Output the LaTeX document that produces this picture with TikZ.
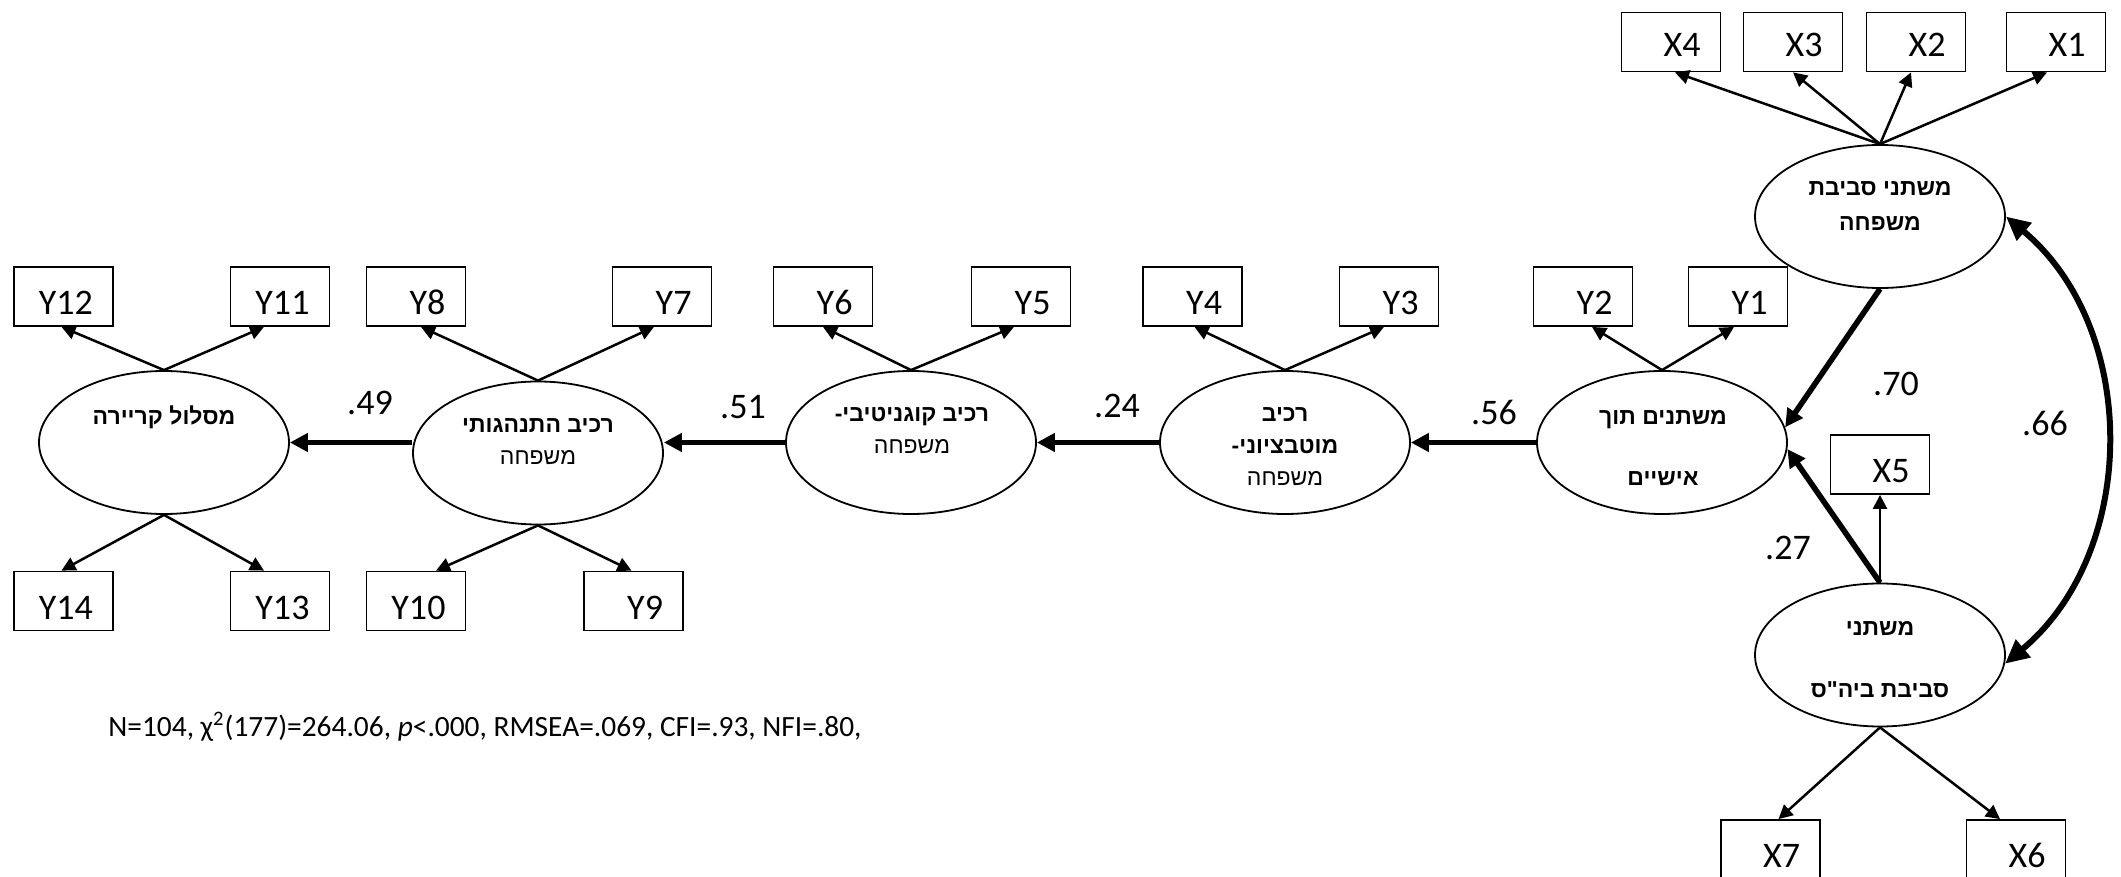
\documentclass[tikz,border=0pt]{standalone}
\usepackage{fontspec}
\setmainfont{Carlito}
\newfontfamily\heb[Script=Hebrew]{Liberation Sans}
\TeXXeTstate=1
\usetikzlibrary{arrows.meta,shapes.geometric,calc}
\begin{document}
\begin{tikzpicture}[x=0.5pt,y=-0.5pt,
  lat/.style={draw,ellipse,line width=0.9pt,minimum width=125pt,minimum height=71.5pt,inner sep=0pt},
  obs/.style={draw,rectangle,line width=0.9pt,minimum width=49.5pt,minimum height=29.5pt,inner xsep=10pt,inner ysep=0pt,text width=29.5pt,align=right,font=\fontsize{18}{20}\selectfont,text height=18pt,text depth=0pt},
  obsx/.style={obs,text height=14.5pt},
  ld/.style={line width=1.25pt,-{Triangle[length=7pt,width=7pt]}},
  strpath/.style={line width=2.8pt,-{Triangle[length=9pt,width=9pt]}},
  cov/.style={line width=3pt,{Triangle[length=12pt,width=11pt]}-{Triangle[length=12pt,width=11pt]}},
  coef/.style={font=\fontsize{18}{20}\selectfont,inner sep=0pt},
  htxt/.style={align=center,inner sep=0pt,font=\heb\bfseries\fontsize{11.5}{16}\selectfont},
]
\useasboundingbox (0,0) rectangle (2121,877);
\clip (0,0) rectangle (2121,877);

% latent variables
\node[lat] (E1) at (1880,216.5) {};
\node[lat] (E2) at (1662,442.5) {};
\node[lat] (E3) at (1880,655) {};
\node[lat] (Emot) at (1285,442.5) {};
\node[lat] (Ecog) at (911,442.5) {};
\node[lat] (Ebeh) at (538,453) {};
\node[lat] (Ecar) at (164,442.5) {};

% texts in latent variables
\node[htxt] (E1t) at (1880,206.5) {\beginR\strut משתני סביבת\endR\\[1.5pt]\beginR\strut משפחה\endR};
\node[htxt] (E2t) at (1663,448.5) {\beginR\strut משתנים תוך\endR\\[14.5pt]\beginR\strut אישיים\endR};
\node[htxt] (E3t) at (1880,660) {\beginR\strut משתני\endR\\[15pt]\beginR\strut סביבת ביה"ס\endR};
\node[htxt] (Emott) at (1285,447) {\beginR\strut רכיב\endR\\\beginR\strut מוטבציוני-\endR\\\mdseries\beginR\strut משפחה\endR};
\node[htxt] (Ecogt) at (912,431.5) {\beginR\strut רכיב קוגניטיבי-\endR\\\mdseries\beginR\strut משפחה\endR};
\node[htxt] (Ebeht) at (538,442) {\beginR\strut רכיב התנהגותי\endR\\\mdseries\beginR\strut משפחה\endR};
\node[htxt] (Ecart) at (164,418) {\beginR\strut מסלול קריירה\endR};

% observed variables
\node[obsx] (X4) at (1671,42) {X4};
\node[obsx] (X3) at (1793,42) {X3};
\node[obsx] (X2) at (1916,42) {X2};
\node[obsx] (X1) at (2056,42) {X1};
\node[obs] (X5) at (1880,464.5) {X5};
\node[obs] (X7) at (1770.5,849.5) {X7};
\node[obs] (X6) at (2016,849.5) {X6};

\node[obs] (Y12) at (63.5,296.5) {Y12};
\node[obs] (Y11) at (280,296.5) {Y11};
\node[obs] (Y8) at (416,296.5) {Y8};
\node[obs] (Y7) at (662,296.5) {Y7};
\node[obs] (Y6) at (823,296.5) {Y6};
\node[obs] (Y5) at (1021,296.5) {Y5};
\node[obs] (Y4) at (1192.5,296.5) {Y4};
\node[obs] (Y3) at (1389,296.5) {Y3};
\node[obs] (Y2) at (1583,296.5) {Y2};
\node[obs] (Y1) at (1738,296.5) {Y1};
\node[obs] (Y14) at (63.5,601) {Y14};
\node[obs] (Y13) at (280,601) {Y13};
\node[obs] (Y10) at (416,601) {Y10};
\node[obs] (Y9) at (633.5,601) {Y9};

% loadings
\draw[ld] (E1.north) -- ($(X4.south)+(4,0)$);
\draw[ld] (E1.north) -- (X3.south);
\draw[ld] (E1.north) -- ($(X2.south)+(-5,0)$);
\draw[ld] (E1.north) -- ($(X1.south)+(-9,0)$);
\draw[ld] (E2.north) -- ($(Y2.south)+(9,0)$);
\draw[ld] (E2.north) -- ($(Y1.south)+(-4,0)$);
\draw[ld] (Emot.north) -- ($(Y4.south)+(2,0)$);
\draw[ld] (Emot.north) -- ($(Y3.south)+(-5,0)$);
\draw[ld] (Ecog.north) -- (Y6.south);
\draw[ld] (Ecog.north) -- ($(Y5.south)+(-7,0)$);
\draw[ld] (Ebeh.north) -- ($(Y8.south)+(5,0)$);
\draw[ld] (Ebeh.north) -- ($(Y7.south)+(-8,0)$);
\draw[ld] (Ebeh.south) -- ($(Y10.north)+(20,0)$);
\draw[ld] (Ebeh.south) -- ($(Y9.north)+(-2,0)$);
\draw[ld] (Ecar.north) -- ($(Y12.south)+(-2,0)$);
\draw[ld] (Ecar.north) -- ($(Y11.south)+(-16,0)$);
\draw[ld] (Ecar.south) -- ($(Y14.north)+(-2,0)$);
\draw[ld] (Ecar.south) -- ($(Y13.north)+(-16,0)$);
\draw[ld] (E3.north) -- (X5.south);
\draw[ld] (E3.south) -- ($(X7.north)+(8,0)$);
\draw[ld] (E3.south) -- ($(X6.north)+(-16,0)$);

% structural paths
\draw[strpath] (E1.south) -- (E2.7);
\draw[strpath] (E3.north) -- (E2.-3);
\draw[strpath] (E2.west) -- (Emot.east);
\draw[strpath] (Emot.west) -- (Ecog.east);
\draw[strpath] (Ecog.west) -- (Ecog.west -| Ebeh.east);
\draw[strpath] (Ebeh.west |- Ecar.east) -- (Ecar.east);
\draw[cov] (E1.east) .. controls ($(E1.east)+(134,112)$) and ($(E3.-4)+(134,-112)$) .. (E3.-4);

% coefficients
\node[coef] (L49) at (370,403) {.49};
\node[coef] (L51) at (743,407) {.51};
\node[coef] (L24) at (1117,406) {.24};
\node[coef] (L56) at (1494,412) {.56};
\node[coef] (L70) at (1896,384) {.70};
\node[coef] (L66) at (2045,423) {.66};
\node[coef] (L27) at (1788,548) {.27};

% fit statistics
\node[anchor=base west,inner sep=0pt,font=\fontsize{14.7}{16}\selectfont] (fit) at (108,736) {N=104, χ\textsuperscript{2}(177)=264.06, \textit{p}<.000, RMSEA=.069, CFI=.93, NFI=.80,};
\end{tikzpicture}
\end{document}
